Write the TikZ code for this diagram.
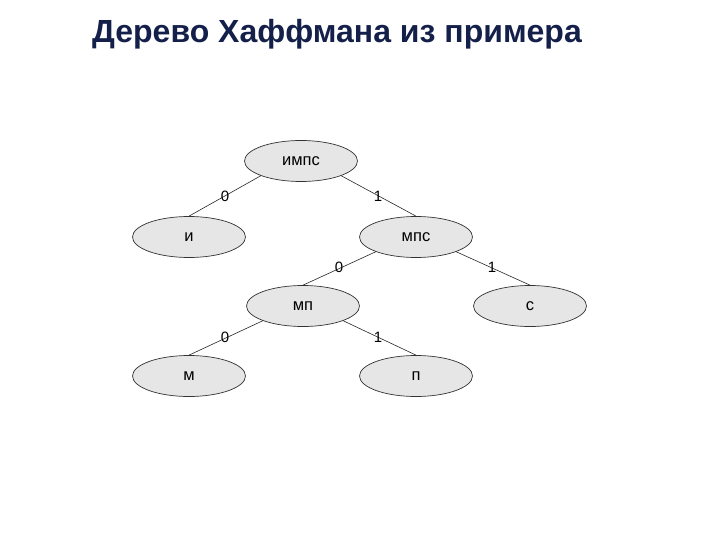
\documentclass[tikz,border=0pt]{standalone}
\usepackage{fontspec}
\setmainfont{Liberation Sans}
\usetikzlibrary{shapes.geometric}
\definecolor{titleblue}{HTML}{14204A}
\definecolor{nodefill}{HTML}{E6E6E6}
\begin{document}
\begin{tikzpicture}[x=1pt,y=-1pt,
  leaf/.style={ellipse,draw=black!80,fill=nodefill,line width=0.7pt,minimum width=113pt,minimum height=41pt,inner sep=0pt,font=\fontsize{16.5}{18}\selectfont},
  edge/.style={draw=black!85,line width=0.6pt},
  bit/.style={font=\fontsize{15}{17}\selectfont,inner sep=0pt}]
\useasboundingbox (0,0) rectangle (720,540);
\node[anchor=base west,font=\fontsize{32}{36}\selectfont\bfseries,text=titleblue,inner sep=0pt] (title) at (92,43) {Дерево Хаффмана из примера};
\node[leaf] (impc) at (301,161) {импс};
\node[leaf] (i) at (189,237) {и};
\node[leaf] (mpc) at (416,237) {мпс};
\node[leaf] (mp) at (303,306) {мп};
\node[leaf] (c) at (530,306) {с};
\node[leaf] (m) at (189,376) {м};
\node[leaf] (p) at (416,376) {п};
\draw[edge] (impc.south west) -- (i.north);
\draw[edge] (impc.south east) -- (mpc.north);
\draw[edge] (mpc.south west) -- (mp.north);
\draw[edge] (mpc.south east) -- (c.north);
\draw[edge] (mp.south west) -- (m.north);
\draw[edge] (mp.south east) -- (p.north);
\node[bit] (b1) at (225,196) {0};
\node[bit] (b2) at (378,196) {1};
\node[bit] (b3) at (339,267) {0};
\node[bit] (b4) at (492,267) {1};
\node[bit] (b5) at (225,337) {0};
\node[bit] (b6) at (378,337) {1};
\end{tikzpicture}
\end{document}
